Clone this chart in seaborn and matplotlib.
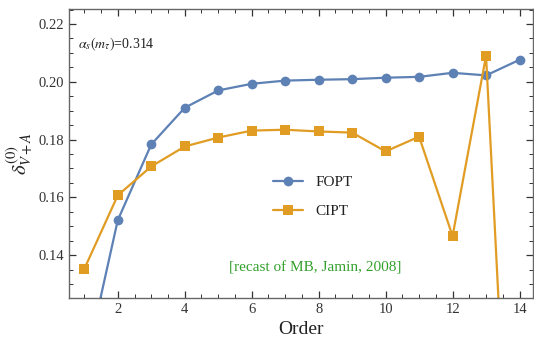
import matplotlib
matplotlib.use("Agg")
import matplotlib.pyplot as plt
import seaborn as sns
import pandas as pd
from matplotlib.ticker import MultipleLocator

# values
orders = [1, 2, 3, 4, 5, 6, 7, 8, 9, 10, 11, 12, 13, 14]
fopt = [0.0999, 0.1521, 0.1783, 0.1910, 0.1970, 0.1993, 0.2004, 0.2007,
        0.2009, 0.2014, 0.2017, 0.2031, 0.2022, 0.2076]
cipt = [0.1352, 0.1607, 0.1707, 0.1776, 0.1807, 0.1831, 0.1834, 0.1828,
        0.1824, 0.1759, 0.1810, 0.1466, 0.2090, -0.018]

df = pd.DataFrame({
    "Order": orders * 2,
    "delta": fopt + cipt,
    "method": ["FOPT"] * len(orders) + ["CIPT"] * len(orders),
})

sns.set_theme(style="ticks")
plt.rcParams["font.family"] = ["Liberation Serif", "DejaVu Serif"]
plt.rcParams["mathtext.fontset"] = "stix"

fig = plt.figure(figsize=(5.34, 3.44), dpi=100)
ax = fig.add_axes([0.129, 0.134, 0.869, 0.840])

pal = {"FOPT": "#5E81B5", "CIPT": "#E19C24"}
sns.lineplot(data=df, x="Order", y="delta", hue="method", style="method",
             markers={"FOPT": "o", "CIPT": "s"}, dashes=False, palette=pal,
             markersize=7, linewidth=1.6, markeredgewidth=0, ax=ax)

ax.set_xlim(0.54, 14.4)
ax.set_ylim(0.1252, 0.2252)
ax.xaxis.set_major_locator(MultipleLocator(2))
ax.xaxis.set_minor_locator(MultipleLocator(0.5))
ax.yaxis.set_major_locator(MultipleLocator(0.02))
ax.yaxis.set_minor_locator(MultipleLocator(0.005))
ax.yaxis.set_major_formatter(matplotlib.ticker.FormatStrFormatter("%.2f"))
ax.tick_params(which="both", direction="in", top=True, right=True,
               labelsize=10.5, colors="#333333", labelcolor="#333333")
ax.tick_params(which="major", length=5, width=0.9)
ax.tick_params(which="minor", length=3, width=0.7)
for s in ax.spines.values():
    s.set_color("#666666")
    s.set_linewidth(1.0)

ax.set_xlabel("Order", fontsize=14, color="#222222")
ax.set_ylabel(r"$\delta^{(0)}_{V+A}$", fontsize=15, color="#222222", labelpad=2)

ax.text(0.02, 0.879, r"$\alpha_s(m_\tau)$=0.314", transform=ax.transAxes,
        fontsize=10, color="#222222", va="center")
ax.text(0.53, 0.104, "[recast of MB, Jamin, 2008]", transform=ax.transAxes,
        fontsize=11, color="#33a02c", ha="center", va="center")

handles, labels = ax.get_legend_handles_labels()
ax.legend(handles=handles, labels=labels, loc="center left",
          bbox_to_anchor=(0.41, 0.35), frameon=False, fontsize=11,
          handlelength=2.0, labelspacing=1.0, labelcolor="#222222")

fig.savefig("out.png", dpi=100)
